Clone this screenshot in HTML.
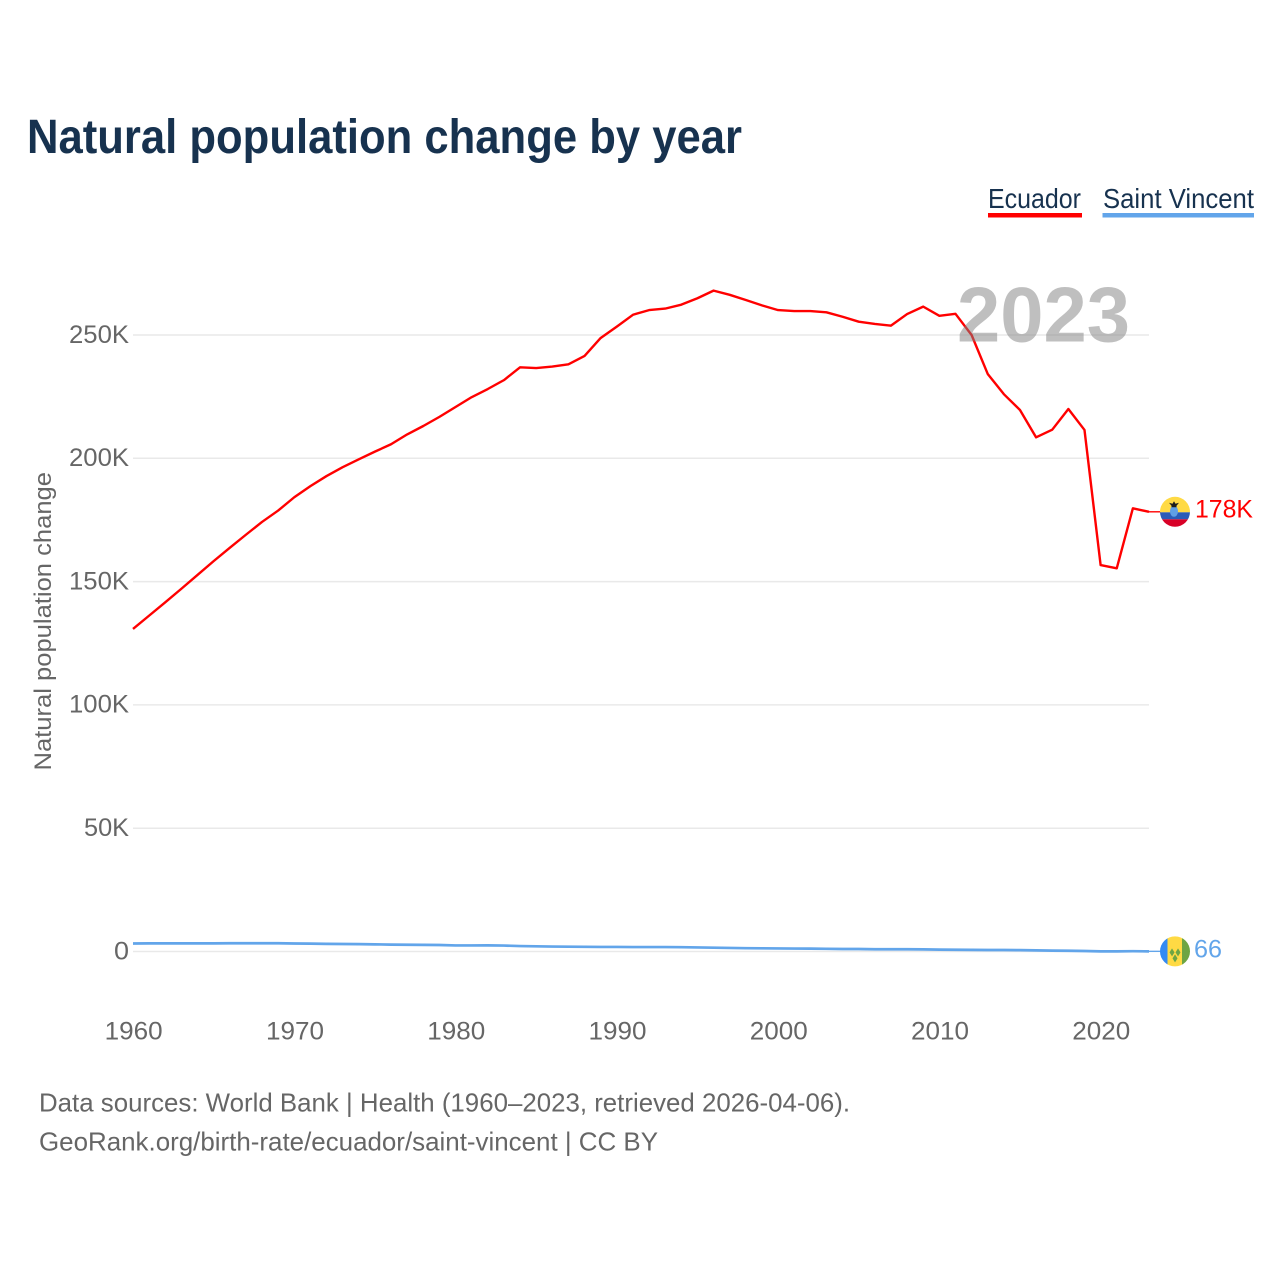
<!DOCTYPE html>
<html lang="en">
<head>
<meta charset="utf-8">
<title>Natural population change by year</title>
<style>
html,body{margin:0;padding:0;background:#fff;}
svg{display:block;font-family:"Liberation Sans",sans-serif;}
</style>
</head>
<body>
<svg id="chart" width="1280" height="1280" viewBox="0 0 1280 1280" xmlns="http://www.w3.org/2000/svg">
  <defs>
    <clipPath id="flag-clip"><circle cx="0" cy="0" r="15"></circle></clipPath>
  </defs>
  <rect x="0" y="0" width="1280" height="1280" fill="#ffffff"></rect>
  <text x="27" y="153" font-size="48" font-weight="700" fill="#17324f" textLength="715" lengthAdjust="spacingAndGlyphs">Natural population change by year</text>

  <g>
    <text x="988" y="208" font-size="27.5" fill="#17324f" textLength="93" lengthAdjust="spacingAndGlyphs">Ecuador</text>
    <rect x="988" y="213" width="94" height="4.5" fill="#ff0000"></rect>
  </g>
  <g>
    <text x="1103" y="208" font-size="27.5" fill="#17324f" textLength="151" lengthAdjust="spacingAndGlyphs">Saint Vincent</text>
    <rect x="1102.5" y="213" width="151.500" height="4.5" fill="#62a5ea"></rect>
  </g>

  <g id="grid"></g>
  <g id="yticks"></g>
  <g id="xticks"></g>
  <text transform="translate(51,770.5) rotate(-90)" x="0" y="0" font-size="24.500" fill="#666666" textLength="298.500" lengthAdjust="spacingAndGlyphs">Natural population change</text>

  <g id="series"></g>

  <text x="957" y="341.500" font-size="78" font-weight="700" fill="#808080" fill-opacity="0.5" textLength="173" lengthAdjust="spacingAndGlyphs">2023</text>

  <g id="markers"></g>

  <text x="39" y="1111.500" font-size="26" fill="#666666" textLength="811" lengthAdjust="spacingAndGlyphs">Data sources: World Bank | Health (1960–2023, retrieved 2026-04-06).</text>
  <text x="39" y="1150.500" font-size="26" fill="#666666" textLength="619" lengthAdjust="spacingAndGlyphs">GeoRank.org/birth-rate/ecuador/saint-vincent | CC BY</text>
</svg>

<script>
const years = [1960,1961,1962,1963,1964,1965,1966,1967,1968,1969,1970,1971,1972,1973,1974,1975,1976,1977,1978,1979,1980,1981,1982,1983,1984,1985,1986,1987,1988,1989,1990,1991,1992,1993,1994,1995,1996,1997,1998,1999,2000,2001,2002,2003,2004,2005,2006,2007,2008,2009,2010,2011,2012,2013,2014,2015,2016,2017,2018,2019,2020,2021,2022,2023];
const ecuadorValues = [130800,136200,141600,147100,152700,158300,163700,169000,174200,178800,184200,188700,192800,196400,199600,202700,205700,209700,213100,216800,220800,224800,228100,231700,236900,236600,237200,238100,241500,248800,253400,258200,260100,260700,262300,264900,268000,266300,264200,262000,260100,259700,259700,259200,257400,255400,254500,253800,258500,261500,257800,258600,250000,234200,226000,219600,208500,211600,220000,211500,156700,155400,179700,178300];
const saintVincentValues = [3250,3300,3300,3300,3300,3300,3350,3350,3350,3350,3250,3200,3100,3050,3000,2900,2800,2750,2700,2650,2450,2450,2500,2400,2200,2100,2000,1950,1900,1850,1850,1800,1800,1800,1750,1650,1550,1450,1350,1300,1250,1200,1150,1100,1000,1000,900,900,900,850,750,700,650,600,600,550,450,350,300,200,50,40,120,66];
const yTickValues = [0,50000,100000,150000,200000,250000];
const yTickLabels = ["0","50K","100K","150K","200K","250K"];
const xTickValues = [1960,1970,1980,1990,2000,2010,2020];
const xTickLabels = ["1960","1970","1980","1990","2000","2010","2020"];
const endLabels = ["178K","66"];

const NS = "http://www.w3.org/2000/svg";
const xLeft = 133, xRight = 1149, yZero = 951.5, yPerUnit = 616.5 / 250000;
const xScale = function (year) { return xLeft + (year - years[0]) * (xRight - xLeft) / (years[years.length - 1] - years[0]); };
const yScale = function (value) { return yZero - value * yPerUnit; };
const make = function (tag, parent, attrs, text) {
  const el = document.createElementNS(NS, tag);
  Object.keys(attrs).forEach(function (k) { el.setAttribute(k, attrs[k]); });
  if (text !== undefined) el.textContent = text;
  parent.appendChild(el);
  return el;
};
const grid = document.getElementById("grid");
const yticks = document.getElementById("yticks");
const xticks = document.getElementById("xticks");
const series = document.getElementById("series");
const markers = document.getElementById("markers");

yTickValues.forEach(function (v, i) {
  const line = make("line", grid, {x1: xLeft, x2: xRight, y1: yScale(v), y2: yScale(v), stroke: "#e9e9e9", "stroke-width": 1.5});
  
  
  const label = make("text", yticks, {x: 129, y: yScale(v) + 7.8, "text-anchor": "end", "font-size": 25, fill: "#666666", textLength: yTickLabels[i].length * 15, lengthAdjust: "spacingAndGlyphs"}, yTickLabels[i]);
  
  
});

xTickValues.forEach(function (v, i) {
  const label = make("text", xticks, {x: xScale(v) + 0.7, y: 1039.5, "text-anchor": "middle", "font-size": 25, fill: "#666666", textLength: 58, lengthAdjust: "spacingAndGlyphs"}, xTickLabels[i]);
  
  
});

const pathFor = function (values) {
  return values.map(function (v, i) { return (i ? "L" : "M") + xScale(years[i]).toFixed(2) + " " + yScale(v).toFixed(2); }).join(" ");
};

const blueLine = make("path", series, {d: pathFor(saintVincentValues), fill: "none", stroke: "#62a5ea", "stroke-width": 2.7, "stroke-linejoin": "round"});



const redLine = make("path", series, {d: pathFor(ecuadorValues), fill: "none", stroke: "#ff0000", "stroke-width": 2.4, "stroke-linejoin": "round"});



const ecY = yScale(ecuadorValues[ecuadorValues.length - 1]);
const svY = yScale(saintVincentValues[saintVincentValues.length - 1]);

const ecConnector = make("line", markers, {x1: xRight, x2: 1161, y1: ecY, y2: ecY, stroke: "#ff0000", "stroke-width": 1.4});


const svConnector = make("line", markers, {x1: xRight, x2: 1161, y1: svY, y2: svY, stroke: "#62a5ea", "stroke-width": 1.4});



/* Ecuador flag */
const ecFlag = make("g", markers, {transform: "translate(1175," + ecY + ")", "clip-path": "url(#flag-clip)"});


make("rect", ecFlag, {x: -15, y: -16, width: 30, height: 16.5, fill: "#ffda44"});
make("rect", ecFlag, {x: -15, y: 0.5, width: 30, height: 7, fill: "#2a5cb8"});
make("rect", ecFlag, {x: -15, y: 7.5, width: 30, height: 9, fill: "#d80027"});
make("ellipse", ecFlag, {cx: -1, cy: -0.5, rx: 4, ry: 5.5, fill: "#5f9fe6"});
make("path", ecFlag, {d: "M-6 -9 L-2.500 -8 L-1 -10.500 L0.500 -8 L4 -9 L1.500 -6 L1.500 -4.500 L-3.500 -4.500 L-3.500 -6 Z", fill: "#1c1c1c"});

/* Saint Vincent flag */
const svFlag = make("g", markers, {transform: "translate(1175," + svY + ")", "clip-path": "url(#flag-clip)"});


make("rect", svFlag, {x: -16, y: -16, width: 9, height: 32, fill: "#338af3"});
make("rect", svFlag, {x: -7.5, y: -16, width: 15, height: 32, fill: "#ffda44"});
make("rect", svFlag, {x: 7, y: -16, width: 9, height: 32, fill: "#6da544"});
[[-3, 1], [3, 1], [0, 7]].forEach(function (p) {
  make("path", svFlag, {d: "M" + p[0] + " " + (p[1] - 4) + " l2.500 4 l-2.500 4 l-2.500 -4 Z", fill: "#6da544"});
});

const ecLabel = make("text", markers, {x: 1195, y: ecY + 5.5, "font-size": 25, fill: "#ff0000", textLength: 58, lengthAdjust: "spacingAndGlyphs"}, endLabels[0]);


const svLabel = make("text", markers, {x: 1194, y: svY + 6, "font-size": 25, fill: "#62a5ea", textLength: 28, lengthAdjust: "spacingAndGlyphs"}, endLabels[1]);


</script>
</body>
</html>
